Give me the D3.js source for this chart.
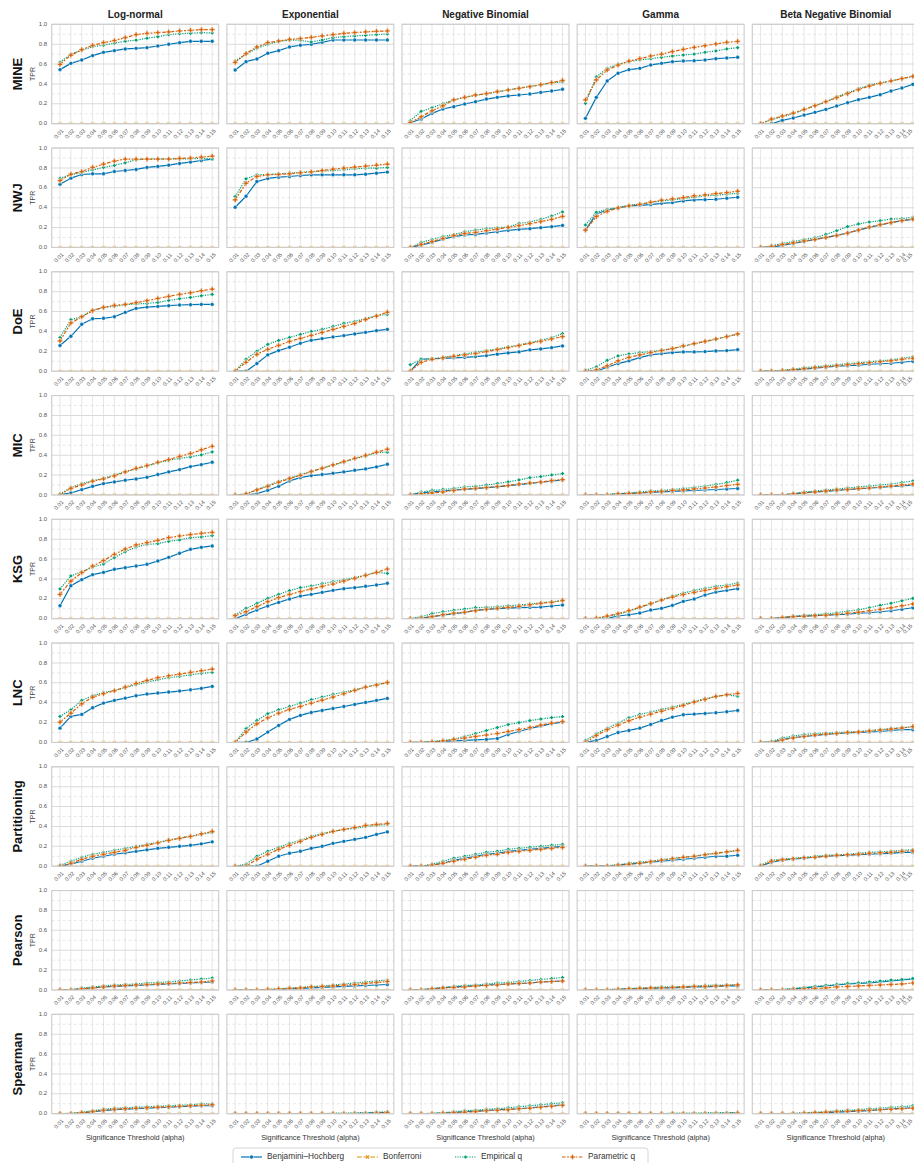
<!DOCTYPE html>
<html>
<head>
<meta charset="utf-8">
<script src="https://cdn.jsdelivr.net/npm/d3@7"></script>
<style>
  body { margin: 0; background: #fff; }
  svg { display: block; font-family: "Liberation Sans", Arial, Helvetica, sans-serif; }
</style>
</head>
<body>
<svg id="chart" width="914" height="1163"></svg>
<script>
// ---- categories and labels ----
const alphas = [0.01, 0.02, 0.03, 0.04, 0.05, 0.06, 0.07, 0.08, 0.09, 0.10, 0.11, 0.12, 0.13, 0.14, 0.15];
const alphaLabels = ["0.01","0.02","0.03","0.04","0.05","0.06","0.07","0.08","0.09","0.10","0.11","0.12","0.13","0.14","0.15"];
const distributions = ["Log-normal", "Exponential", "Negative Binomial", "Gamma", "Beta Negative Binomial"];
const methods = ["MINE", "NWJ", "DoE", "MIC", "KSG", "LNC", "Partitioning", "Pearson", "Spearman"];
const procedures = ["Benjamini\u2013Hochberg", "Bonferroni", "Empirical q", "Parametric q"];
const yTickValues = [0, 0.2, 0.4, 0.6, 0.8, 1.0];
const yTickLabels = ["0.0", "0.2", "0.4", "0.6", "0.8", "1.0"];
const xAxisTitle = "Significance Threshold (alpha)";

// Bonferroni finds nothing at any threshold
const bonferroni = [0, 0, 0, 0, 0, 0, 0, 0, 0, 0, 0, 0, 0, 0, 0];

// ---- TPR per method; each row follows `distributions` ----
const MINE_BH = [
  [0.544,0.607,0.641,0.685,0.718,0.735,0.752,0.758,0.765,0.782,0.799,0.815,0.829,0.829,0.829],
  [0.54,0.624,0.651,0.708,0.735,0.772,0.789,0.799,0.819,0.842,0.842,0.842,0.842,0.842,0.842],
  [0.01,0.047,0.104,0.148,0.171,0.198,0.221,0.248,0.265,0.279,0.289,0.299,0.315,0.329,0.346],
  [0.054,0.265,0.43,0.507,0.544,0.557,0.591,0.607,0.624,0.631,0.634,0.641,0.654,0.661,0.668],
  [0,0,0.034,0.057,0.087,0.114,0.144,0.178,0.211,0.242,0.265,0.292,0.329,0.359,0.396]];
const MINE_EQ = [
  [0.62,0.70,0.738,0.775,0.79,0.81,0.83,0.84,0.86,0.875,0.896,0.906,0.909,0.916,0.913],
  [0.631,0.70,0.758,0.799,0.826,0.842,0.839,0.822,0.842,0.866,0.876,0.883,0.889,0.896,0.903],
  [0.03,0.124,0.16,0.2,0.24,0.265,0.285,0.3,0.32,0.34,0.36,0.375,0.39,0.41,0.42],
  [0.205,0.47,0.557,0.60,0.624,0.641,0.654,0.668,0.681,0.691,0.70,0.718,0.732,0.752,0.765],
  [0,0.04,0.07,0.10,0.14,0.18,0.22,0.27,0.31,0.35,0.39,0.41,0.43,0.455,0.475]];
const MINE_PQ = [
  [0.597,0.69,0.745,0.789,0.815,0.836,0.866,0.896,0.909,0.916,0.923,0.933,0.94,0.946,0.946],
  [0.617,0.705,0.772,0.815,0.832,0.849,0.856,0.869,0.883,0.896,0.909,0.916,0.923,0.93,0.933],
  [0.01,0.07,0.13,0.18,0.24,0.265,0.289,0.302,0.322,0.339,0.356,0.372,0.393,0.413,0.436],
  [0.24,0.44,0.54,0.59,0.63,0.654,0.681,0.70,0.725,0.748,0.768,0.785,0.802,0.819,0.829],
  [0,0.047,0.077,0.107,0.144,0.181,0.221,0.262,0.302,0.342,0.379,0.406,0.43,0.453,0.477]];

const NWJ_BH = [
  [0.636,0.697,0.734,0.741,0.741,0.764,0.774,0.785,0.805,0.815,0.828,0.845,0.859,0.875,0.889],
  [0.404,0.515,0.663,0.694,0.707,0.714,0.724,0.731,0.731,0.731,0.731,0.731,0.737,0.747,0.758],
  [0,0.024,0.05,0.084,0.108,0.125,0.131,0.145,0.158,0.172,0.182,0.189,0.199,0.209,0.222],
  [0.175,0.337,0.377,0.397,0.418,0.424,0.431,0.444,0.451,0.468,0.478,0.481,0.485,0.495,0.505],
  [0,0,0.02,0.04,0.06,0.081,0.101,0.121,0.145,0.175,0.202,0.226,0.249,0.269,0.283]];
const NWJ_EQ = [
  [0.697,0.731,0.754,0.781,0.805,0.825,0.852,0.882,0.889,0.892,0.892,0.892,0.892,0.896,0.892],
  [0.512,0.69,0.731,0.734,0.741,0.747,0.758,0.761,0.768,0.774,0.781,0.791,0.798,0.798,0.805],
  [0,0.05,0.08,0.11,0.13,0.158,0.175,0.189,0.199,0.205,0.242,0.256,0.283,0.316,0.357],
  [0.226,0.354,0.384,0.404,0.424,0.438,0.451,0.468,0.478,0.492,0.505,0.519,0.525,0.535,0.545],
  [0,0.015,0.04,0.06,0.08,0.098,0.131,0.168,0.209,0.236,0.256,0.269,0.286,0.29,0.303]];
const NWJ_PQ = [
  [0.673,0.737,0.764,0.805,0.838,0.869,0.889,0.889,0.889,0.889,0.889,0.896,0.899,0.909,0.919],
  [0.478,0.646,0.714,0.731,0.734,0.741,0.751,0.761,0.774,0.788,0.798,0.808,0.818,0.828,0.838],
  [0,0.03,0.06,0.09,0.12,0.141,0.152,0.168,0.185,0.202,0.219,0.239,0.259,0.283,0.313],
  [0.175,0.31,0.364,0.397,0.418,0.434,0.455,0.475,0.488,0.502,0.519,0.529,0.542,0.552,0.566],
  [0,0.01,0.03,0.045,0.065,0.08,0.10,0.12,0.145,0.175,0.205,0.23,0.25,0.27,0.285]];

const DoE_BH = [
  [0.258,0.351,0.472,0.528,0.532,0.548,0.592,0.632,0.645,0.652,0.659,0.666,0.669,0.672,0.672],
  [0,0,0.077,0.164,0.207,0.241,0.281,0.311,0.328,0.344,0.358,0.375,0.391,0.408,0.421],
  [0,0.12,0.125,0.13,0.135,0.14,0.147,0.157,0.171,0.184,0.194,0.214,0.224,0.237,0.254],
  [0,0,0.04,0.077,0.104,0.137,0.164,0.177,0.187,0.194,0.194,0.197,0.204,0.207,0.217],
  [0,0,0,0.01,0.02,0.03,0.04,0.05,0.055,0.06,0.07,0.075,0.08,0.09,0.1]];
const DoE_EQ = [
  [0.338,0.518,0.548,0.615,0.642,0.652,0.669,0.676,0.682,0.692,0.712,0.729,0.742,0.759,0.773],
  [0,0.12,0.2,0.27,0.31,0.34,0.37,0.4,0.42,0.45,0.48,0.5,0.53,0.56,0.57],
  [0.065,0.12,0.125,0.14,0.155,0.174,0.191,0.207,0.224,0.244,0.264,0.288,0.311,0.338,0.378],
  [0.01,0.043,0.11,0.154,0.174,0.187,0.197,0.211,0.227,0.251,0.274,0.298,0.321,0.348,0.371],
  [0,0,0.01,0.02,0.035,0.045,0.055,0.065,0.075,0.085,0.095,0.105,0.115,0.13,0.145]];
const DoE_PQ = [
  [0.304,0.485,0.548,0.609,0.642,0.662,0.672,0.689,0.709,0.732,0.753,0.773,0.789,0.809,0.826],
  [0,0.09,0.17,0.22,0.26,0.30,0.33,0.36,0.39,0.42,0.45,0.48,0.52,0.555,0.595],
  [0,0.09,0.12,0.135,0.15,0.164,0.177,0.197,0.217,0.237,0.258,0.281,0.301,0.324,0.348],
  [0,0.013,0.054,0.104,0.14,0.164,0.187,0.207,0.227,0.254,0.278,0.301,0.324,0.348,0.375],
  [0,0,0.005,0.015,0.025,0.035,0.045,0.055,0.065,0.075,0.085,0.095,0.105,0.12,0.13]];

const MIC_BH = [
  [0,0.02,0.054,0.087,0.114,0.131,0.148,0.161,0.178,0.205,0.232,0.255,0.285,0.305,0.329],
  [0,0,0.013,0.047,0.087,0.141,0.174,0.195,0.205,0.218,0.232,0.248,0.262,0.282,0.309],
  [0,0.02,0.03,0.04,0.05,0.057,0.064,0.074,0.081,0.094,0.104,0.117,0.128,0.138,0.151],
  [0,0,0,0.01,0.015,0.02,0.025,0.03,0.035,0.04,0.045,0.05,0.055,0.06,0.065],
  [0,0,0,0.01,0.02,0.03,0.035,0.045,0.055,0.06,0.07,0.075,0.085,0.09,0.1]];
const MIC_EQ = [
  [0.01,0.074,0.114,0.144,0.168,0.201,0.232,0.262,0.292,0.322,0.349,0.369,0.383,0.403,0.433],
  [0,0.01,0.055,0.095,0.135,0.17,0.205,0.235,0.27,0.3,0.33,0.365,0.39,0.425,0.43],
  [0,0.03,0.045,0.055,0.065,0.081,0.087,0.1,0.114,0.131,0.151,0.174,0.185,0.201,0.215],
  [0,0,0.005,0.015,0.02,0.03,0.04,0.045,0.055,0.065,0.075,0.09,0.105,0.125,0.148],
  [0,0,0,0.015,0.03,0.04,0.05,0.06,0.07,0.08,0.09,0.1,0.11,0.125,0.14]];
const MIC_PQ = [
  [0,0.067,0.1,0.138,0.161,0.191,0.232,0.268,0.295,0.329,0.356,0.389,0.416,0.453,0.49],
  [0,0.01,0.05,0.087,0.128,0.164,0.198,0.235,0.268,0.302,0.336,0.369,0.399,0.43,0.46],
  [0,0.01,0.02,0.03,0.045,0.06,0.067,0.074,0.085,0.095,0.11,0.12,0.13,0.145,0.155],
  [0,0,0,0.01,0.015,0.02,0.03,0.035,0.045,0.05,0.06,0.07,0.08,0.095,0.107],
  [0,0,0,0.01,0.02,0.03,0.04,0.05,0.055,0.065,0.07,0.08,0.09,0.1,0.11]];

const KSG_BH = [
  [0.131,0.332,0.393,0.443,0.466,0.497,0.513,0.53,0.547,0.581,0.617,0.658,0.698,0.718,0.732],
  [0,0.044,0.087,0.128,0.164,0.198,0.228,0.245,0.265,0.285,0.302,0.312,0.326,0.339,0.356],
  [0,0.005,0.02,0.035,0.05,0.064,0.084,0.094,0.101,0.107,0.111,0.114,0.117,0.128,0.138],
  [0,0,0.003,0.027,0.04,0.057,0.087,0.104,0.134,0.174,0.198,0.238,0.268,0.285,0.302],
  [0,0,0.01,0.02,0.025,0.03,0.035,0.04,0.045,0.055,0.06,0.07,0.08,0.095,0.11]];
const KSG_EQ = [
  [0.299,0.43,0.473,0.517,0.55,0.614,0.674,0.721,0.748,0.755,0.779,0.792,0.815,0.822,0.836],
  [0.037,0.104,0.154,0.205,0.245,0.282,0.312,0.329,0.352,0.372,0.393,0.413,0.44,0.466,0.456],
  [0,0.02,0.05,0.07,0.085,0.097,0.111,0.114,0.121,0.131,0.138,0.148,0.161,0.171,0.181],
  [0,0,0.02,0.045,0.075,0.11,0.15,0.19,0.228,0.258,0.285,0.305,0.326,0.339,0.359],
  [0,0,0.01,0.025,0.035,0.04,0.05,0.06,0.075,0.09,0.11,0.135,0.155,0.18,0.205]];
const KSG_PQ = [
  [0.245,0.379,0.463,0.53,0.584,0.648,0.701,0.742,0.765,0.789,0.815,0.832,0.846,0.859,0.869],
  [0.03,0.07,0.121,0.171,0.211,0.245,0.272,0.299,0.326,0.349,0.379,0.406,0.436,0.466,0.5],
  [0,0.005,0.02,0.04,0.055,0.065,0.08,0.095,0.105,0.115,0.125,0.14,0.155,0.165,0.185],
  [0,0.005,0.027,0.05,0.081,0.117,0.151,0.188,0.218,0.242,0.265,0.285,0.305,0.322,0.339],
  [0,0,0.01,0.02,0.025,0.03,0.035,0.045,0.055,0.065,0.08,0.095,0.11,0.13,0.148]];

const LNC_BH = [
  [0.144,0.262,0.282,0.349,0.396,0.423,0.446,0.47,0.487,0.497,0.507,0.517,0.53,0.544,0.564],
  [0,0,0.034,0.104,0.171,0.232,0.272,0.302,0.322,0.342,0.362,0.383,0.403,0.423,0.443],
  [0,0,0.005,0.01,0.015,0.02,0.025,0.03,0.04,0.08,0.11,0.14,0.165,0.19,0.205],
  [0,0.02,0.06,0.1,0.121,0.144,0.181,0.221,0.255,0.279,0.285,0.292,0.299,0.309,0.322],
  [0,0,0.03,0.05,0.06,0.07,0.08,0.09,0.095,0.1,0.105,0.11,0.12,0.13,0.13]];
const LNC_EQ = [
  [0.262,0.329,0.423,0.47,0.503,0.523,0.55,0.58,0.607,0.631,0.651,0.664,0.681,0.695,0.705],
  [0,0.138,0.221,0.289,0.329,0.362,0.396,0.43,0.456,0.483,0.507,0.53,0.557,0.584,0.597],
  [0,0,0.01,0.02,0.035,0.06,0.09,0.12,0.15,0.18,0.2,0.22,0.235,0.25,0.26],
  [0.02,0.087,0.144,0.195,0.248,0.282,0.305,0.332,0.356,0.383,0.413,0.44,0.463,0.477,0.466],
  [0,0.01,0.045,0.065,0.08,0.09,0.095,0.1,0.105,0.11,0.12,0.13,0.14,0.15,0.155]];
const LNC_PQ = [
  [0.205,0.295,0.389,0.456,0.49,0.52,0.557,0.594,0.624,0.651,0.671,0.688,0.705,0.721,0.738],
  [0,0.104,0.188,0.248,0.295,0.332,0.362,0.396,0.426,0.456,0.49,0.523,0.557,0.577,0.604],
  [0,0,0.005,0.015,0.03,0.045,0.06,0.075,0.09,0.11,0.13,0.15,0.175,0.195,0.21],
  [0,0.07,0.128,0.174,0.218,0.255,0.285,0.315,0.342,0.372,0.406,0.433,0.463,0.48,0.493],
  [0,0,0.025,0.045,0.06,0.075,0.085,0.09,0.1,0.105,0.115,0.125,0.135,0.145,0.16]];

const Partitioning_BH = [
  [0,0.02,0.05,0.08,0.1,0.12,0.135,0.15,0.165,0.18,0.19,0.2,0.21,0.225,0.245],
  [0,0,0,0.05,0.1,0.13,0.15,0.18,0.2,0.23,0.25,0.27,0.29,0.32,0.345],
  [0,0,0.01,0.03,0.06,0.08,0.1,0.12,0.13,0.15,0.16,0.17,0.18,0.19,0.2],
  [0,0,0,0.01,0.02,0.03,0.04,0.05,0.06,0.07,0.08,0.09,0.1,0.1,0.11],
  [0,0.04,0.06,0.07,0.08,0.09,0.1,0.105,0.11,0.115,0.12,0.125,0.13,0.14,0.14]];
const Partitioning_EQ = [
  [0.01,0.05,0.09,0.12,0.14,0.16,0.18,0.2,0.22,0.24,0.265,0.285,0.3,0.32,0.34],
  [0,0.02,0.1,0.15,0.19,0.23,0.26,0.3,0.33,0.35,0.37,0.38,0.4,0.41,0.42],
  [0,0,0.02,0.05,0.08,0.1,0.12,0.14,0.15,0.17,0.18,0.19,0.2,0.21,0.22],
  [0,0,0.005,0.015,0.03,0.04,0.05,0.065,0.08,0.09,0.1,0.12,0.13,0.14,0.16],
  [0.01,0.06,0.07,0.08,0.09,0.1,0.11,0.115,0.12,0.13,0.14,0.145,0.15,0.16,0.165]];
const Partitioning_PQ = [
  [0,0.03,0.07,0.1,0.12,0.14,0.16,0.19,0.21,0.235,0.26,0.28,0.3,0.325,0.35],
  [0,0,0.07,0.12,0.17,0.21,0.25,0.29,0.32,0.35,0.37,0.39,0.41,0.42,0.43],
  [0,0,0.01,0.03,0.05,0.07,0.09,0.11,0.12,0.14,0.15,0.16,0.17,0.18,0.19],
  [0,0,0,0.01,0.02,0.03,0.045,0.06,0.075,0.09,0.1,0.115,0.13,0.145,0.16],
  [0,0.05,0.065,0.075,0.085,0.09,0.1,0.11,0.115,0.12,0.13,0.135,0.14,0.15,0.155]];

const Pearson_BH = [
  [0,0,0.01,0.02,0.03,0.035,0.04,0.045,0.05,0.055,0.06,0.065,0.07,0.075,0.08],
  [0,0,0,0,0.005,0.01,0.015,0.02,0.025,0.03,0.035,0.04,0.045,0.05,0.055],
  [0,0,0.01,0.02,0.03,0.035,0.04,0.05,0.055,0.06,0.065,0.07,0.08,0.085,0.09],
  [0,0,0,0.005,0.01,0.01,0.015,0.02,0.02,0.025,0.03,0.03,0.035,0.04,0.04],
  [0,0,0,0.01,0.02,0.03,0.04,0.05,0.06,0.065,0.07,0.08,0.09,0.1,0.11]];
const Pearson_EQ = [
  [0,0.005,0.02,0.03,0.04,0.05,0.055,0.06,0.07,0.075,0.08,0.09,0.1,0.11,0.12],
  [0,0,0,0.005,0.01,0.02,0.025,0.035,0.04,0.05,0.06,0.07,0.08,0.09,0.1],
  [0,0.005,0.015,0.025,0.035,0.045,0.05,0.06,0.07,0.075,0.085,0.095,0.105,0.115,0.125],
  [0,0,0.005,0.01,0.015,0.02,0.025,0.03,0.03,0.035,0.04,0.045,0.05,0.05,0.055],
  [0,0,0.005,0.015,0.025,0.035,0.045,0.055,0.065,0.07,0.08,0.09,0.1,0.105,0.115]];
const Pearson_PQ = [
  [0,0,0.01,0.02,0.03,0.04,0.045,0.05,0.055,0.06,0.065,0.07,0.075,0.08,0.09],
  [0,0,0,0.005,0.01,0.015,0.02,0.03,0.035,0.04,0.05,0.055,0.065,0.075,0.085],
  [0,0,0.01,0.02,0.025,0.03,0.04,0.045,0.05,0.06,0.065,0.07,0.08,0.085,0.09],
  [0,0,0,0.005,0.01,0.015,0.02,0.02,0.025,0.03,0.035,0.035,0.04,0.045,0.05],
  [0,0,0,0.005,0.01,0.015,0.02,0.03,0.035,0.04,0.045,0.05,0.055,0.06,0.07]];

const Spearman_BH = [
  [0,0,0.005,0.02,0.03,0.04,0.045,0.05,0.055,0.06,0.065,0.07,0.075,0.08,0.08],
  [0,0,0,0,0,0,0,0,0,0,0,0,0.005,0.01,0.01],
  [0,0,0,0.005,0.01,0.02,0.025,0.03,0.04,0.045,0.05,0.06,0.07,0.08,0.09],
  [0,0,0,0,0,0,0,0,0,0,0,0,0,0.005,0.005],
  [0,0,0,0,0,0.005,0.01,0.015,0.02,0.025,0.03,0.04,0.05,0.055,0.06]];
const Spearman_EQ = [
  [0,0.005,0.015,0.03,0.045,0.055,0.06,0.065,0.07,0.075,0.08,0.085,0.09,0.1,0.1],
  [0,0,0,0,0,0,0,0,0,0.005,0.005,0.01,0.01,0.015,0.02],
  [0,0,0.005,0.01,0.02,0.03,0.035,0.045,0.05,0.06,0.07,0.08,0.09,0.1,0.11],
  [0,0,0,0,0,0,0,0,0.005,0.005,0.005,0.01,0.01,0.01,0.01],
  [0,0,0,0.005,0.01,0.015,0.02,0.03,0.035,0.04,0.05,0.055,0.065,0.07,0.08]];
const Spearman_PQ = [
  [0,0,0.01,0.02,0.035,0.045,0.05,0.055,0.06,0.065,0.07,0.075,0.08,0.085,0.09],
  [0,0,0,0,0,0,0,0,0,0,0,0,0,0.005,0.01],
  [0,0,0,0.005,0.01,0.015,0.02,0.03,0.035,0.04,0.05,0.055,0.065,0.075,0.085],
  [0,0,0,0,0,0,0,0,0,0,0,0,0,0,0.005],
  [0,0,0,0,0.005,0.01,0.015,0.02,0.025,0.03,0.035,0.04,0.045,0.05,0.055]];

// lookup tables assembled from the arrays above
const tprBH = { MINE: MINE_BH, NWJ: NWJ_BH, DoE: DoE_BH, MIC: MIC_BH, KSG: KSG_BH, LNC: LNC_BH,
  Partitioning: Partitioning_BH, Pearson: Pearson_BH, Spearman: Spearman_BH };
const tprEQ = { MINE: MINE_EQ, NWJ: NWJ_EQ, DoE: DoE_EQ, MIC: MIC_EQ, KSG: KSG_EQ, LNC: LNC_EQ,
  Partitioning: Partitioning_EQ, Pearson: Pearson_EQ, Spearman: Spearman_EQ };
const tprPQ = { MINE: MINE_PQ, NWJ: NWJ_PQ, DoE: DoE_PQ, MIC: MIC_PQ, KSG: KSG_PQ, LNC: LNC_PQ,
  Partitioning: Partitioning_PQ, Pearson: Pearson_PQ, Spearman: Spearman_PQ };

// ---- styling for each procedure (drawn in this order) ----
const lw = 1.2;
const styles = [
  { color: "#0173b2", dash: null, symbol: "circle", opacity: 1 },
  { color: "#de8f05", dash: [4 * lw, 1.5 * lw], symbol: "x", opacity: 0.45 },
  { color: "#029e73", dash: [1 * lw, 1 * lw], symbol: "diamond", opacity: 1 },
  { color: "#d55e00", dash: [3 * lw, 1.25 * lw, 1.5 * lw, 1.25 * lw], symbol: "plus", opacity: 1 }
];

// ---- layout ----
const pageW = 914;
const panelW = 167, panelH = 99.4;
const colLeft = j => 51.7 + j * 175.15;
const rowTop = i => 24.3 + i * 123.75;

const svg = d3.select("#chart");
svg.append("rect").attr("width", pageW).attr("height", 1163).attr("fill", "#fff");

const x = d3.scaleLinear().domain([0.01, 0.15]).range([8.3, 160.5]);
const y = d3.scaleLinear().domain([0, 1]).range([panelH, 0]);

const line = d3.line().x((d, k) => x(alphas[k])).y(d => y(d));

function symbolPath(kind) {
  switch (kind) {
    case "circle": return d3.symbol(d3.symbolCircle, 12)();
    case "plus": return d3.symbol(d3.symbolCross, 15)();
    case "diamond": return d3.symbol(d3.symbolSquare, 9)();
    case "x": return d3.symbol(d3.symbolCross, 12)();
  }
}
function symbolRotate(kind) {
  return (kind === "diamond" || kind === "x") ? 45 : 0;
}

const defs = svg.append("defs");
defs.append("clipPath").attr("id", "panel-clip")
  .append("rect").attr("x", 0).attr("y", 0).attr("width", panelW).attr("height", panelH);
defs.append("clipPath").attr("id", "page-clip")
  .append("rect").attr("x", 0).attr("y", 0).attr("width", pageW).attr("height", 1163);

const root = svg.append("g").attr("clip-path", "url(#page-clip)");
const tickHalf = 4.6;   // half extent of a rotated tick label

methods.forEach((method, i) => {
  distributions.forEach((dist, j) => {
    const left = colLeft(j);
    const g = root.append("g").attr("transform", `translate(${left},${rowTop(i)})`);

    // grid: vertical lines at every threshold
    g.append("g").selectAll("line").data(alphas).join("line")
      .attr("x1", d => x(d)).attr("x2", d => x(d)).attr("y1", 0).attr("y2", panelH)
      .attr("stroke", "#e6e6e6").attr("stroke-width", 1);
    // minor horizontal grid (dashed)
    g.append("g").selectAll("line").data([0.1, 0.3, 0.5, 0.7, 0.9]).join("line")
      .attr("x1", 0).attr("x2", panelW).attr("y1", d => y(d)).attr("y2", d => y(d))
      .attr("stroke", "#d6d6d6").attr("stroke-width", 0.6).attr("stroke-dasharray", "3,2.5");
    // major horizontal grid
    g.append("g").selectAll("line").data(yTickValues).join("line")
      .attr("x1", 0).attr("x2", panelW).attr("y1", d => y(d)).attr("y2", d => y(d))
      .attr("stroke", "#dadada").attr("stroke-width", 1.1);

    const series = [tprBH[method][j], bonferroni, tprEQ[method][j], tprPQ[method][j]];
    const plot = g.append("g").attr("clip-path", "url(#panel-clip)");
    series.forEach((vals, s) => {
      const st = styles[s];
      const sg = plot.append("g").attr("opacity", st.opacity);
      sg.append("path").attr("d", line(vals))
        .attr("fill", "none").attr("stroke", st.color).attr("stroke-width", lw)
        .attr("stroke-dasharray", st.dash ? st.dash.join(",") : null)
        .attr("stroke-linejoin", "round");
      sg.append("g").selectAll("path").data(vals).join("path")
        .attr("d", symbolPath(st.symbol))
        .attr("transform", (d, k) => `translate(${x(alphas[k])},${y(d)}) rotate(${symbolRotate(st.symbol)})`)
        .attr("fill", st.color).attr("stroke", "#fff").attr("stroke-width", 0.5);
    });

    // frame
    g.append("rect").attr("x", 0).attr("y", 0).attr("width", panelW).attr("height", panelH)
      .attr("fill", "none").attr("stroke", "#cccccc").attr("stroke-width", 1.1);

    // x tick labels (kept inside the page at the right edge)
    g.append("g").selectAll("text").data(alphas).join("text")
      .attr("transform", d => {
        const cx = Math.min(x(d) - 1, pageW - 1.5 - tickHalf - left);
        return `translate(${cx},${panelH + 10.5}) rotate(-45)`;
      })
      .attr("text-anchor", "middle").attr("dominant-baseline", "middle")
      .attr("font-size", 5.6).attr("fill", "#555")
      .text((d, k) => alphaLabels[k]);

    if (j === 0) {
      g.append("g").selectAll("text").data(yTickValues).join("text")
        .attr("x", -4.5).attr("y", d => y(d))
        .attr("text-anchor", "end").attr("dominant-baseline", "middle")
        .attr("font-size", 6).attr("fill", "#555")
        .text((d, k) => yTickLabels[k]);
      g.append("text")
        .attr("transform", `translate(-19,${panelH / 2}) rotate(-90)`)
        .attr("text-anchor", "middle").attr("dominant-baseline", "middle")
        .attr("font-size", 7).attr("fill", "#444").text("TPR");
      g.append("text")
        .attr("transform", `translate(-33.5,${panelH / 2}) rotate(-90)`)
        .attr("text-anchor", "middle").attr("dominant-baseline", "middle")
        .attr("font-size", 13).attr("font-weight", "bold").attr("fill", "#111").text(method);
    }
    if (i === 0) {
      g.append("text").attr("x", panelW / 2).attr("y", -6)
        .attr("text-anchor", "middle").attr("font-size", 10).attr("font-weight", "bold")
        .attr("fill", "#222").text(dist);
    }
    if (i === methods.length - 1) {
      g.append("text").attr("x", panelW / 2).attr("y", panelH + 26)
        .attr("text-anchor", "middle").attr("font-size", 7.3).attr("fill", "#333")
        .text(xAxisTitle);
    }
  });
});

// ---- legend ----
const legend = root.append("g").attr("transform", "translate(233,1148)");
legend.append("rect").attr("x", 0).attr("y", 0).attr("width", 415).attr("height", 22).attr("rx", 3)
  .attr("fill", "#fff").attr("stroke", "#cccccc").attr("stroke-width", 0.8);
const legendX = [8, 124, 222, 329];
procedures.forEach((name, s) => {
  const st = styles[s];
  const item = legend.append("g").attr("transform", `translate(${legendX[s]},9)`);
  item.append("line").attr("x1", 0).attr("x2", 21).attr("y1", 0).attr("y2", 0)
    .attr("stroke", st.color).attr("stroke-width", lw)
    .attr("stroke-dasharray", st.dash ? st.dash.join(",") : null);
  item.append("path").attr("d", symbolPath(st.symbol))
    .attr("transform", `translate(10.5,0) rotate(${symbolRotate(st.symbol)})`)
    .attr("fill", st.color).attr("stroke", "#fff").attr("stroke-width", 0.5);
  item.append("text").attr("x", 26).attr("y", 0).attr("dominant-baseline", "middle")
    .attr("font-size", 8.3).attr("fill", "#333").text(name);
});
</script>
</body>
</html>
